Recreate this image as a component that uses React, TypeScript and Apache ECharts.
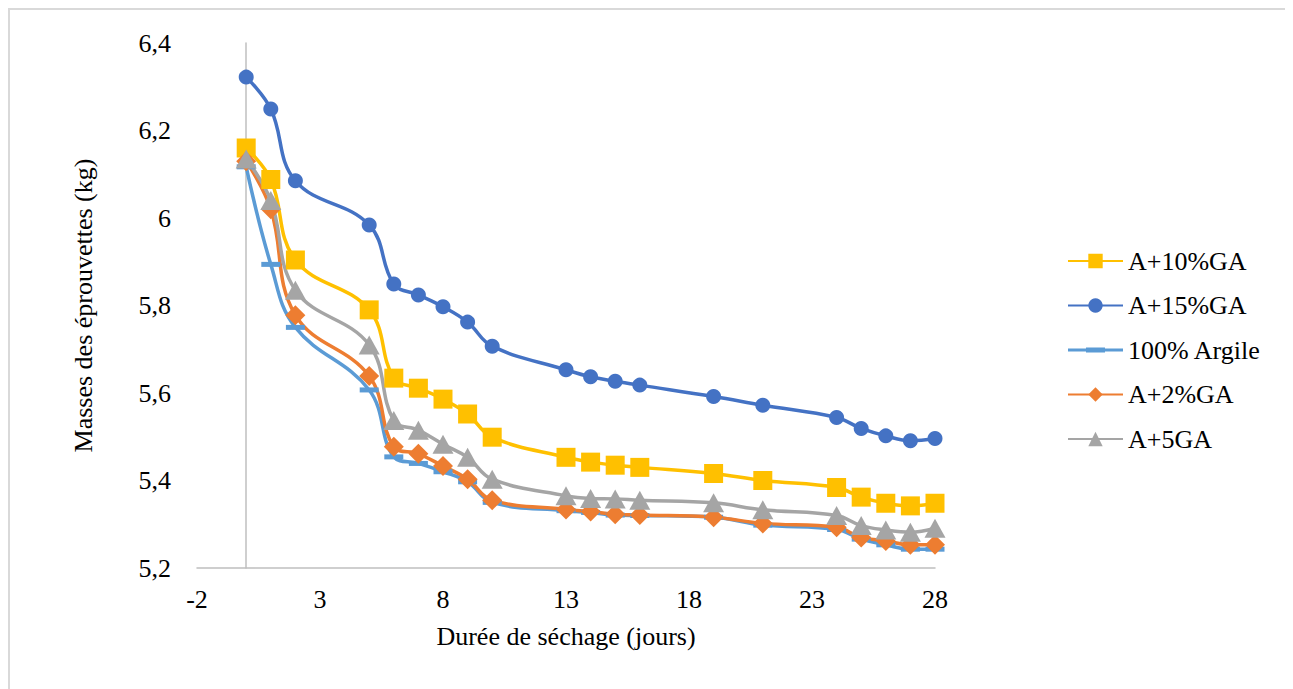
import React, { useEffect, useRef } from "react";
import * as echarts from "echarts";

const days = [0, 1, 2, 5, 6, 7, 8, 9, 10, 13, 14, 15, 16, 19, 21, 24, 25, 26, 27, 28];

const seriesNames = ["A+10%GA", "A+15%GA", "100% Argile", "A+2%GA", "A+5GA"];

const a10 = [6.16, 6.088, 5.904, 5.79, 5.634, 5.611, 5.586, 5.552, 5.499, 5.453, 5.442, 5.435, 5.43, 5.416, 5.4, 5.384, 5.362, 5.348, 5.342, 5.348];
const a15 = [6.322, 6.249, 6.085, 5.984, 5.849, 5.824, 5.797, 5.762, 5.707, 5.653, 5.637, 5.627, 5.618, 5.592, 5.572, 5.544, 5.519, 5.502, 5.491, 5.496];
const argile = [6.117, 5.894, 5.75, 5.607, 5.454, 5.439, 5.42, 5.397, 5.35, 5.331, 5.327, 5.321, 5.32, 5.316, 5.298, 5.288, 5.266, 5.253, 5.243, 5.243];
const a2 = [6.13, 6.02, 5.778, 5.639, 5.477, 5.461, 5.433, 5.403, 5.355, 5.334, 5.329, 5.323, 5.321, 5.316, 5.302, 5.293, 5.27, 5.262, 5.253, 5.253];
const a5 = [6.135, 6.04, 5.835, 5.71, 5.537, 5.515, 5.483, 5.453, 5.403, 5.365, 5.359, 5.358, 5.355, 5.349, 5.333, 5.32, 5.297, 5.287, 5.282, 5.291];

const xTitle = "Durée de séchage (jours)";
const yTitle = "Masses des éprouvettes (kg)";

const colors = ["#FFC000", "#4472C4", "#5B9BD5", "#ED7D31", "#A5A5A5"];
const symbols: any[] = ["rect", "circle", "rect", "diamond", "triangle"];
const symbolSizes: any[] = [19, 15, [19, 5], 20, [21, 19]];

const FONT = "Liberation Serif";

const dashLegendIcon =
  "path://M0,0h0.01v0.01h-0.01z M0,7.5h55v3h-55z M18,6.5h19v5h-19z M54.99,17.99h0.01v0.01h-0.01z";

export default function App() {
  const ref = useRef<HTMLDivElement>(null);
  useEffect(() => {
    if (!ref.current) return;
    const chart = echarts.init(ref.current, null, { renderer: "svg" });
    const allData = [a10, a15, argile, a2, a5];
    const series = allData.map((vals, i) => ({
      name: seriesNames[i],
      type: "line",
      smooth: 0.4,
      data: days.map((d, j) => [d, vals[j]]),
      symbol: symbols[i],
      symbolSize: symbolSizes[i],
      itemStyle: { color: colors[i] },
      lineStyle: { color: colors[i], width: 3.5 },
    }));
    chart.setOption({
      animation: false,
      textStyle: { fontFamily: FONT },
      grid: { left: 189, top: 35, width: 738, height: 525, containLabel: false },
      legend: {
        orient: "vertical",
        left: 1054,
        top: 235,
        itemWidth: 55,
        itemHeight: 18,
        itemGap: 18.5,
        textStyle: { fontFamily: FONT, fontSize: 26, color: "#000", lineHeight: 26 },
        data: seriesNames.map((n, i) =>
          i === 2 ? { name: n, icon: dashLegendIcon, itemStyle: { color: colors[i] } } : n
        ),
      },
      xAxis: {
        type: "value",
        min: -2,
        max: 28,
        interval: 5,
        name: xTitle,
        nameLocation: "middle",
        nameGap: 55,
        nameTextStyle: { fontFamily: FONT, fontSize: 26, color: "#000" },
        axisLine: { onZero: false, lineStyle: { color: "#bfbfbf", width: 1.5 } },
        axisTick: { show: false },
        splitLine: { show: false },
        axisLabel: { fontFamily: FONT, fontSize: 26, color: "#000", margin: 18 },
      },
      yAxis: {
        type: "value",
        min: 5.2,
        max: 6.4,
        interval: 0.2,
        name: yTitle,
        nameLocation: "middle",
        nameGap: 101,
        nameTextStyle: { fontFamily: FONT, fontSize: 26, color: "#000" },
        axisLine: { show: true, onZero: true, lineStyle: { color: "#bfbfbf", width: 1.5 } },
        axisTick: { show: false },
        splitLine: { show: false },
        axisLabel: {
          fontFamily: FONT,
          fontSize: 26,
          color: "#000",
          margin: 26,
          formatter: (v: number) => String(Number(v.toFixed(1))).replace(".", ","),
        },
      },
      series,
    });
    return () => chart.dispose();
  }, []);
  return (
    <div
      style={{
        position: "relative",
        width: 1282,
        height: 681,
        border: "2px solid #d9d9d9",
        borderBottom: "none",
        boxSizing: "border-box",
        background: "#fff",
      }}
    >
      <div ref={ref} style={{ position: "absolute", left: -2, top: -2, width: 1282, height: 681 }} />
    </div>
  );
}
